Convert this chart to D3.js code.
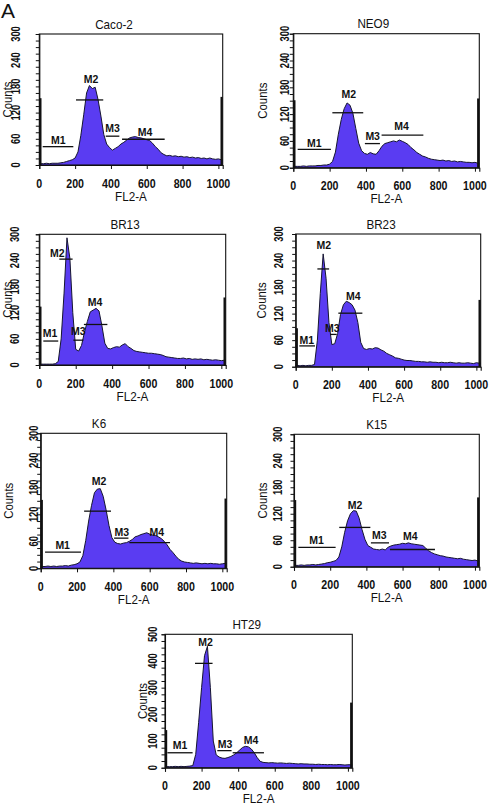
<!DOCTYPE html>
<html><head><meta charset="utf-8">
<script src="https://cdn.jsdelivr.net/npm/d3@7"></script>
<style>
body{margin:0;background:#fff}
svg{display:block}
text{font-family:"Liberation Sans",Arial,sans-serif;fill:#111}
</style>
</head><body>
<svg id="chart" width="491" height="805"></svg>
<script>
// ---------------- DATA ----------------
const panelNames = ["Caco-2","NEO9","BR13","BR23","K6","K15","HT29"];
const yMaxes = [300,300,300,300,300,300,500];
const xTickLabels = [0,200,400,600,800,1000];
const yTickLabels300 = [0,60,120,180,240,300];
const yTickLabels500 = [0,100,200,300,400,500];
const xAxisTitle = "FL2-A";
const yAxisTitle = "Counts";
const figureLetter = "A";
const channelMax = 1024;
const binWidth = 16; // channels per histogram bin

const countsCaco2 = [3,3,4,3,4,4,4,5,6,8,10,12,16,30,68,115,165,182,175,178,150,112,70,48,40,34,38,42,48,52,57,62,64,65,63,62,60,58,56,50,42,36,28,24,21,22,20,21,19,20,18,19,17,18,16,17,15,16,14,16,14,13,14,12];
const countsNEO9  = [3,3,3,4,3,4,4,4,5,5,6,6,8,14,35,75,108,132,145,140,122,88,55,38,32,30,34,31,30,38,48,54,56,58,60,58,62,59,56,52,45,40,34,30,26,24,21,19,18,17,16,17,15,16,14,15,13,14,13,12,12,11,12,10];
const countsBR13  = [2,2,2,2,2,3,8,60,165,292,245,120,36,32,45,75,100,122,126,130,124,90,50,38,37,40,42,41,46,49,42,38,33,31,30,29,28,27,27,26,25,24,22,19,18,17,16,15,15,16,14,15,13,14,13,14,12,13,12,11,12,11,10,11];
const countsBR23  = [3,2,3,2,3,3,5,60,165,255,200,100,50,52,75,118,140,148,145,140,128,100,55,41,39,41,40,43,42,38,35,30,27,24,20,19,17,15,14,14,13,12,12,11,11,10,11,10,10,9,10,9,9,10,9,8,9,8,8,9,8,7,9,8];
const countsK6    = [4,4,5,4,5,4,5,5,6,5,7,8,10,14,28,62,105,140,168,176,177,160,130,95,68,58,55,54,56,57,60,64,70,72,75,77,79,76,74,73,70,66,60,52,42,35,27,20,16,14,13,12,11,12,11,10,11,10,11,10,10,9,10,11];
const countsK15   = [3,3,4,3,4,4,5,4,5,6,7,9,10,12,14,22,45,78,104,120,127,126,110,84,62,48,44,40,39,38,40,38,44,47,49,50,51,53,52,54,52,51,50,49,48,42,36,32,29,27,25,24,22,21,20,19,18,19,17,16,15,14,15,13];
const countsHT29  = [4,4,4,5,4,5,4,5,6,8,50,170,300,420,455,300,100,48,40,36,35,38,42,48,56,66,76,80,78,70,56,38,24,20,19,18,19,18,17,18,17,16,17,16,15,14,15,14,14,13,13,12,13,12,12,11,12,11,11,12,11,10,11,11];
const allCounts = [countsCaco2,countsNEO9,countsBR13,countsBR23,countsK6,countsK15,countsHT29];

// off-scale counts piled in the first and last channel [left, right]
const edgeCounts = [[153,156],[151,155],[134,155],[87,151],[152,155],[151,157],[141,244]];

// gates: from/to in channels, level in counts, label centre (lx channel, ly counts)
const markersCaco2 = [{n:"M1",from:19,to:190,level:42,lx:106,ly:56},{n:"M2",from:205,to:357,level:149,lx:289,ly:196},{n:"M3",from:371,to:447,level:66,lx:409,ly:85},{n:"M4",from:462,to:700,level:59,lx:590,ly:74}];
const markersNEO9  = [{n:"M1",from:24,to:207,level:41,lx:116,ly:54},{n:"M2",from:215,to:385,level:123,lx:306,ly:164},{n:"M3",from:394,to:477,level:54,lx:437,ly:71},{n:"M4",from:486,to:716,level:73,lx:596,ly:92}];
const markersBR13  = [{n:"M1",from:22,to:104,level:55,lx:59,ly:73},{n:"M2",from:110,to:183,level:243,lx:99,ly:256},{n:"M3",from:187,to:242,level:57,lx:214,ly:77},{n:"M4",from:245,to:374,level:93,lx:306,ly:145}];
const markersBR23  = [{n:"M1",from:20,to:107,level:47,lx:61,ly:60},{n:"M2",from:120,to:185,level:221,lx:155,ly:274},{n:"M3",from:190,to:227,level:73,lx:203,ly:87},{n:"M4",from:236,to:369,level:121,lx:319,ly:158}];
const markersK6    = [{n:"M1",from:24,to:222,level:36,lx:121,ly:50},{n:"M2",from:239,to:387,level:127,lx:321,ly:193},{n:"M3",from:404,to:483,level:67,lx:446,ly:81},{n:"M4",from:488,to:712,level:57,lx:639,ly:81}];
const markersK15   = [{n:"M1",from:24,to:230,level:44,lx:125,ly:59},{n:"M2",from:250,to:422,level:89,lx:337,ly:140},{n:"M3",from:425,to:525,level:54,lx:471,ly:70},{n:"M4",from:530,to:779,level:39,lx:643,ly:68}];
const markersHT29  = [{n:"M1",from:13,to:151,level:56,lx:82,ly:84},{n:"M2",from:164,to:260,level:391,lx:222,ly:469},{n:"M3",from:286,to:364,level:64,lx:328,ly:89},{n:"M4",from:370,to:541,level:56,lx:470,ly:101}];
const allMarkers = [markersCaco2,markersNEO9,markersBR13,markersBR23,markersK6,markersK15,markersHT29];

// ---------------- LAYOUT (page px) ----------------
const boxes = [[39.3,34,183.4,131],[293.3,33.7,186,134],[39.3,234.3,186.4,130.7],[295.7,234,185,132.7],[40.7,433.3,186,135],[294,434.3,185.3,132.4],[165,634.3,187.3,133.4]];
const titleCx = [114,373.3,125,381,99,376.7,246.7];
const yLabOff = [-24,-9,-25,-17.4,-7,-16.5,-12.5];
const countsOff = [-32,-31,-32,-33.5,-32,-31.5,-22.5];
const FILL = "#5a3cf2";

// ---------------- DRAW ----------------
const svg = d3.select("#chart");
svg.append("text").attr("x",1).attr("y",18).attr("font-size",21).text(figureLetter);

panelNames.forEach((name,k)=>{
  const [L,T,W,H] = boxes[k];
  const yMax = yMaxes[k];
  const x = d3.scaleLinear().domain([0,channelMax]).range([L,L+W]);
  const y = d3.scaleLinear().domain([0,yMax]).range([T+H,T]);
  const g = svg.append("g");
  const counts = allCounts[k];
  const pts = counts.map((c,i)=>[i*binWidth+binWidth/2,c]);
  pts.unshift([0,counts[0]]);
  pts.push([channelMax,counts[counts.length-1]]);

  g.append("path").datum(pts)
    .attr("d",d3.area().x(d=>x(d[0])).y0(y(0)).y1(d=>y(d[1])))
    .attr("fill",FILL);
  g.append("path").datum(pts)
    .attr("d",d3.line().x(d=>x(d[0])).y(d=>y(d[1])))
    .attr("fill","none").attr("stroke","#161630").attr("stroke-width",1);

  // edge piles
  const [eL,eR] = edgeCounts[k];
  g.append("rect").attr("x",x(0)).attr("y",y(eL)).attr("width",2.2).attr("height",y(0)-y(eL)).attr("fill","#111");
  g.append("rect").attr("x",x(channelMax)-2.2).attr("y",y(eR)).attr("width",2.2).attr("height",y(0)-y(eR)).attr("fill","#111");

  // frame
  g.append("rect").attr("x",L).attr("y",T).attr("width",W).attr("height",H)
    .attr("fill","none").attr("stroke","#111").attr("stroke-width",1.1);

  // axes
  const minorX = d3.range(0,1001,200/6);
  const xa = g.append("g").attr("transform",`translate(0,${T+H})`);
  xa.call(d3.axisBottom(x).tickValues(minorX).tickSize(3.5).tickFormat(""));
  xa.call(d3.axisBottom(x).tickValues(xTickLabels).tickSize(4).tickFormat(""));
  xa.selectAll("path.domain").attr("stroke","#111").attr("stroke-width",1.1);
  xa.selectAll("line").attr("stroke","#111").attr("stroke-width",1);

  const yTicks = yMax===500 ? yTickLabels500 : yTickLabels300;
  const yStep = yMax===500 ? 25 : 15;
  const ya = g.append("g").attr("transform",`translate(${L},0)`);
  ya.call(d3.axisLeft(y).tickValues(d3.range(0,yMax+1,yStep)).tickSize(3.5).tickFormat(""));
  ya.selectAll("path.domain").attr("stroke","#111").attr("stroke-width",1.1);
  ya.selectAll("line").attr("stroke","#111").attr("stroke-width",1);

  // x tick labels
  g.selectAll(null).data(xTickLabels).enter().append("text")
    .attr("transform",d=>`translate(${x(d)},${T+H+18}) scale(0.82,1)`)
    .attr("text-anchor","middle").attr("dy","0.35em")
    .attr("font-size",13).attr("font-weight","bold").text(d=>d);
  // y tick labels (rotated)
  g.selectAll(null).data(yTicks).enter().append("text")
    .attr("transform",d=>`translate(${L+yLabOff[k]},${y(d)}) rotate(-90) scale(0.72,1)`)
    .attr("text-anchor","middle").attr("dy","0.35em")
    .attr("font-size",13).attr("font-weight","bold").text(d=>d);

  // axis titles
  g.append("text").attr("transform",`translate(${L+W/2},${T+H+31}) scale(0.9,1)`)
    .attr("text-anchor","middle").attr("dy","0.35em").attr("font-size",13).text(xAxisTitle);
  g.append("text").attr("transform",`translate(${L+countsOff[k]},${T+H/2}) rotate(-90) scale(0.95,1)`)
    .attr("text-anchor","middle").attr("dy","0.35em").attr("font-size",12).text(yAxisTitle);
  g.append("text").attr("transform",`translate(${titleCx[k]},${T-10}) scale(0.9,1)`)
    .attr("text-anchor","middle").attr("dy","0.35em").attr("font-size",13).text(name);

  // markers
  const mk = allMarkers[k];
  g.selectAll(null).data(mk).enter().append("line")
    .attr("x1",d=>x(d.from)).attr("x2",d=>x(d.to))
    .attr("y1",d=>y(d.level)).attr("y2",d=>y(d.level))
    .attr("stroke","#111").attr("stroke-width",1.3);
  g.selectAll(null).data(mk).enter().append("text")
    .attr("x",d=>x(d.lx)).attr("y",d=>y(d.ly)).attr("dy","0.35em")
    .attr("text-anchor","middle").attr("font-size",10.5).attr("font-weight","bold").text(d=>d.n);
});
</script>
</body></html>
